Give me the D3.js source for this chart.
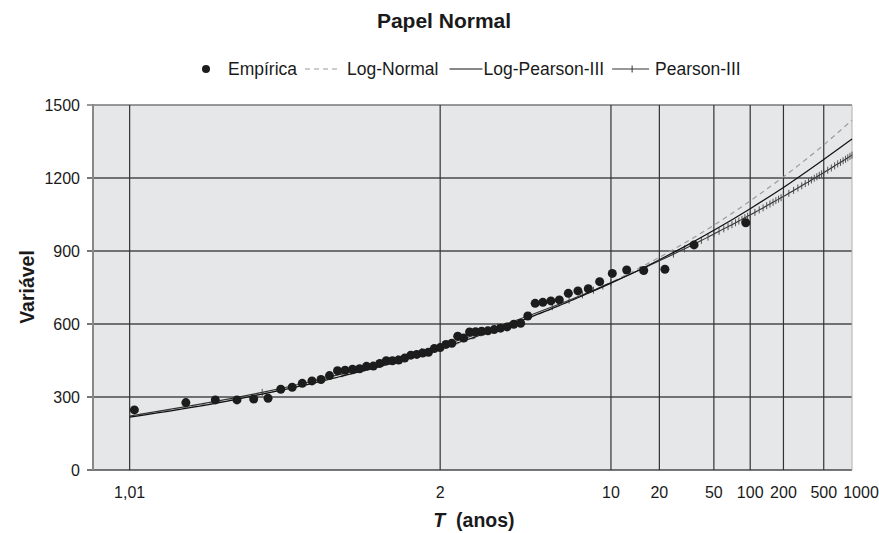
<!DOCTYPE html>
<html><head><meta charset="utf-8">
<script src="https://cdn.jsdelivr.net/npm/d3@7"></script>
<style>body{margin:0;background:#fff} text{font-family:"Liberation Sans",Arial,Helvetica,sans-serif;fill:#1a1a1a}</style>
</head><body><svg id="c" width="879" height="533"></svg>
<script>
// Empirical (return period T, value)
const empT = [1.011,1.029,1.048,1.068,1.088,1.109,1.131,1.154,1.177,1.202,1.228,1.255,1.283,1.312,1.343,1.375,1.409,1.445,1.482,1.522,1.563,1.607,1.653,1.703,1.755,1.810,1.869,1.932,2.000,2.072,2.150,2.234,2.325,2.423,2.530,2.647,2.776,2.917,3.074,3.248,3.444,3.664,3.915,4.202,4.535,4.925,5.388,5.948,6.638,7.508,8.642,10.178,12.378,15.793,21.810,35.231,91.600];
const empQ = [247,277,288,288,292,295,332,340,356,366,372,388,408,410,414,416,426,427,438,449,449,452,460,472,475,481,484,499,503,516,521,550,542,567,568,570,572,577,583,588,599,603,633,685,689,695,699,726,736,745,774,808,822,820,825,925,1016];
// Fitted curves
const curveT = [1.01,1.05,1.1,1.2,1.3,1.5,1.75,2,2.5,3,4,5,7,10,15,20,30,50,100,200,500,1000];
const logNormalQ = [222,279,313,355,385,427,466,496,541,575,626,663,716,771,832,874,933,1006,1106,1205,1336,1438];
const logPearsonQ = [217,276,312,355,386,429,469,499,545,578,628,664,716,768,824,864,918,985,1074,1161,1276,1360];
const pearsonT = [1.01,1.1,1.2,1.3,1.4,1.5,1.6,1.7,1.8,1.9,2,2.5,3,4,5,6,7,8,9,10,15,20,25,30,35,40,45,50,55,60,65,70,75,80,85,90,95,100,110,120,130,140,150,160,170,180,190,200,225,250,275,300,325,350,375,400,425,450,475,500,550,600,650,700,750,800,850,900,950,1000];
const pearsonQ = [222,319,364,395,419,439,457,472,486,498,509,554,588,636,671,698,720,739,756,770,823,860,887,909,928,943,957,970,981,991,1000,1008,1016,1023,1030,1037,1043,1048,1059,1069,1077,1086,1093,1100,1107,1113,1119,1124,1137,1149,1159,1168,1177,1184,1192,1199,1205,1211,1217,1222,1232,1241,1250,1258,1264,1271,1277,1283,1289,1294];
// Axis ticks
const xTicks = [1.01,2,10,20,50,100,200,500,1000];
const xTickLabels = ["1,01","2","10","20","50","100","200","500","1000"];
const yTicks = [0,300,600,900,1200,1500];
const legendLabels = ["Empírica","Log-Normal","Log-Pearson-III","Pearson-III"];

function probit(p){
 const a=[-3.969683028665376e+01,2.209460984245205e+02,-2.759285104469687e+02,1.383577518672690e+02,-3.066479806614716e+01,2.506628277459239e+00];
 const b=[-5.447609879822406e+01,1.615858368580409e+02,-1.556989798598866e+02,6.680131188771972e+01,-1.328068155288572e+01];
 const c=[-7.784894002430293e-03,-3.223964580411365e-01,-2.400758277161838e+00,-2.549732539343734e+00,4.374664141464968e+00,2.938163982698783e+00];
 const d=[7.784695709041462e-03,3.224671290700398e-01,2.445134137142996e+00,3.754408661907416e+00];
 const pl=0.02425, ph=1-pl; let q,r;
 if(p<pl){q=Math.sqrt(-2*Math.log(p));return (((((c[0]*q+c[1])*q+c[2])*q+c[3])*q+c[4])*q+c[5])/((((d[0]*q+d[1])*q+d[2])*q+d[3])*q+1);}
 if(p<=ph){q=p-0.5;r=q*q;return (((((a[0]*r+a[1])*r+a[2])*r+a[3])*r+a[4])*r+a[5])*q/(((((b[0]*r+b[1])*r+b[2])*r+b[3])*r+b[4])*r+1);}
 q=Math.sqrt(-2*Math.log(1-p));return -(((((c[0]*q+c[1])*q+c[2])*q+c[3])*q+c[4])*q+c[5])/((((d[0]*q+d[1])*q+d[2])*q+d[3])*q+1);
}
const zOf = T => probit(1 - 1/T);

const L=93, R=852, TOP=105, BOT=470;
const xz = d3.scaleLinear().domain([-2.605, zOf(1000)]).range([L, R]);
const x = T => xz(zOf(T));
const y = d3.scaleLinear().domain([0,1500]).range([BOT, TOP]);

const svg = d3.select("#c");
svg.append("rect").attr("x",L).attr("y",TOP).attr("width",R-L).attr("height",BOT-TOP).attr("fill","#e6e7e8");

// horizontal grid
svg.append("g").selectAll("line").data(yTicks).join("line")
 .attr("x1",87).attr("x2",R).attr("y1",d=>y(d)).attr("y2",d=>y(d))
 .attr("stroke",d=>d===1500?"#777":"#4a4a4a").attr("stroke-width",1.3);
// vertical grid
svg.append("g").selectAll("line").data(xTicks.filter(t=>t<1000)).join("line")
 .attr("x1",d=>x(d)).attr("x2",d=>x(d)).attr("y1",TOP).attr("y2",BOT)
 .attr("stroke","#333").attr("stroke-width",1.2);
svg.append("line").attr("x1",R).attr("x2",R).attr("y1",TOP).attr("y2",BOT).attr("stroke","#b0b0b0").attr("stroke-width",1);
svg.append("line").attr("x1",L).attr("x2",L).attr("y1",TOP-1).attr("y2",BOT).attr("stroke","#888").attr("stroke-width",2);

// tick labels
svg.append("g").selectAll("text").data(yTicks).join("text")
 .attr("x",80).attr("y",d=>y(d)+6).attr("text-anchor","end").attr("font-size",16).text(d=>d);
svg.append("g").selectAll("text").data(xTicks).join("text")
 .attr("x",(d,i)=>x(d)+(d===1000?9:0)).attr("y",498).attr("text-anchor","middle").attr("font-size",16)
 .text((d,i)=>xTickLabels[i]);

// lines
const line = d3.line().curve(d3.curveMonotoneX);
const pts = (Ts,Qs)=>Ts.map((t,i)=>[x(t),y(Qs[i])]);
svg.append("path").attr("d",line(pts(curveT,logNormalQ))).attr("fill","none").attr("stroke","#9a9a9a").attr("stroke-width",1.2).attr("stroke-dasharray","5,4");
svg.append("path").attr("d",line(pts(pearsonT,pearsonQ))).attr("fill","none").attr("stroke","#333").attr("stroke-width",1.1);
svg.append("g").selectAll("line").data(pearsonT).join("line")
 .attr("x1",d=>x(d)).attr("x2",d=>x(d))
 .attr("y1",(d,i)=>y(pearsonQ[i])-3.5).attr("y2",(d,i)=>y(pearsonQ[i])+3.5)
 .attr("stroke","#444").attr("stroke-width",0.9);
svg.append("path").attr("d",line(pts(curveT,logPearsonQ))).attr("fill","none").attr("stroke","#111").attr("stroke-width",1.2);

// empirical dots
svg.append("g").selectAll("circle").data(empT).join("circle")
 .attr("cx",d=>x(d)).attr("cy",(d,i)=>y(empQ[i])).attr("r",4.5).attr("fill","#1c1c1c");

// titles
svg.append("text").attr("x",444).attr("y",28).attr("text-anchor","middle").attr("font-size",21).attr("font-weight","bold").text("Papel Normal");
const xt = svg.append("text").attr("x",474).attr("y",527).attr("text-anchor","middle").attr("font-size",19.5).attr("font-weight","bold");
xt.append("tspan").attr("font-style","italic").text("T");
xt.append("tspan").text("\u00a0 (anos)");
svg.append("text").attr("transform","translate(34,287) rotate(-90)").attr("text-anchor","middle").attr("font-size",19.5).attr("font-weight","bold").text("Variável");

// legend
const ly = 69, fs = 17.5;
const lg = svg.append("g").attr("font-size",fs);
let cx = 206;
lg.append("circle").attr("cx",cx).attr("cy",ly).attr("r",4).attr("fill","#1c1c1c");
cx += 22;
let t = lg.append("text").attr("x",cx).attr("y",ly+6).attr("font-size",fs).text(legendLabels[0]);
cx += t.node().getComputedTextLength() + 8;
lg.append("line").attr("x1",cx).attr("x2",cx+33).attr("y1",ly).attr("y2",ly).attr("stroke","#9a9a9a").attr("stroke-width",1.2).attr("stroke-dasharray","5,4");
cx += 42;
t = lg.append("text").attr("x",cx).attr("y",ly+6).attr("font-size",fs).text(legendLabels[1]);
cx += t.node().getComputedTextLength() + 11;
lg.append("line").attr("x1",cx).attr("x2",cx+33).attr("y1",ly).attr("y2",ly).attr("stroke","#111").attr("stroke-width",1.2);
cx += 34;
t = lg.append("text").attr("x",cx).attr("y",ly+6).attr("font-size",fs).text(legendLabels[2]);
cx += t.node().getComputedTextLength() + 8;
lg.append("line").attr("x1",cx).attr("x2",cx+37).attr("y1",ly).attr("y2",ly).attr("stroke","#333").attr("stroke-width",1.1);
lg.append("line").attr("x1",cx+20).attr("x2",cx+20).attr("y1",ly-3.5).attr("y2",ly+3.5).attr("stroke","#333").attr("stroke-width",1);
cx += 43;
lg.append("text").attr("x",cx).attr("y",ly+6).attr("font-size",fs).text(legendLabels[3]);
</script></body></html>
